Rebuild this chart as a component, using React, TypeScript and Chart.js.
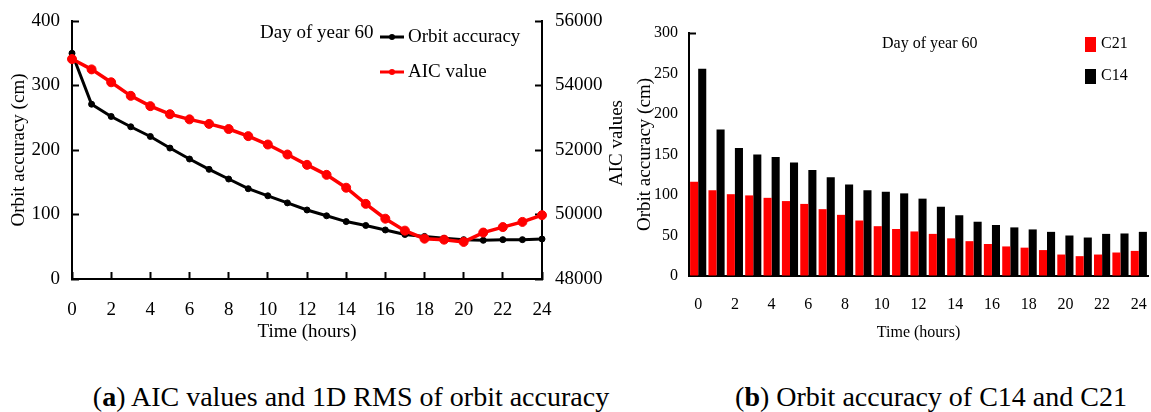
import React, { useEffect, useRef } from 'react';
import { Chart, registerables } from 'chart.js';

Chart.register(...registerables);

const FONT = "'Liberation Serif', 'Times New Roman', serif";

// ---- Chart (a) data ----
const hours = [0, 1, 2, 3, 4, 5, 6, 7, 8, 9, 10, 11, 12, 13, 14, 15, 16, 17, 18, 19, 20, 21, 22, 23, 24];
const orbitAccuracy = [350, 271, 252, 236, 221, 203, 186, 170, 155, 140, 129, 118, 107, 98, 89, 83, 76, 69, 66, 63, 61, 60, 61, 61, 62];
const aicValues = [54820, 54500, 54100, 53680, 53360, 53110, 52950, 52810, 52650, 52430, 52170, 51860, 51540, 51230, 50830, 50330, 49870, 49500, 49250, 49220, 49150, 49440, 49610, 49770, 49980];
const hourTicks = [0, 2, 4, 6, 8, 10, 12, 14, 16, 18, 20, 22, 24];
const accuracyTicks = [0, 100, 200, 300, 400];
const aicTicks = [48000, 50000, 52000, 54000, 56000];

// ---- Chart (b) data ----
const barHours = ['0', '1', '2', '3', '4', '5', '6', '7', '8', '9', '10', '11', '12', '13', '14', '15', '16', '17', '18', '19', '20', '21', '22', '23', '24'];
const c21 = [116.5, 106, 101, 99.5, 96.5, 92.5, 89, 82.5, 75.5, 68.5, 61.5, 58, 55, 52, 46.5, 43, 39.5, 36.5, 35, 32, 26.5, 24.5, 26.5, 29, 31];
const c14 = [256, 181, 158, 150, 147, 140, 131, 122, 113, 106, 104, 102, 95.5, 85.5, 75, 67, 63, 60, 57.5, 54.5, 50, 47.5, 52, 52.5, 54.5];
const barTicks = [0, 50, 100, 150, 200, 250, 300];

const annotation = 'Day of year 60';
const RED = '#ff0000';
const BLACK = '#000000';

const setTicks = (values: number[]) => (scale: any) => {
  scale.ticks = values.map((v) => ({ value: v }));
};

export default function App() {
  const refA = useRef<HTMLCanvasElement>(null);
  const refB = useRef<HTMLCanvasElement>(null);

  useEffect(() => {
    Chart.defaults.font.family = FONT;
    Chart.defaults.color = '#000';

    const annotA = {
      id: 'annotA',
      afterDraw(chart: any) {
        const ctx = chart.ctx;
        ctx.save();
        ctx.font = `19px ${FONT}`;
        ctx.fillStyle = '#000';
        ctx.textBaseline = 'middle';
        ctx.textAlign = 'left';
        ctx.fillText(annotation, 260, 33);
        const items = [
          { ds: chart.data.datasets[0], y: 37 },
          { ds: chart.data.datasets[1], y: 72 },
        ];
        for (const it of items) {
          const c = it.ds.borderColor;
          ctx.strokeStyle = c;
          ctx.fillStyle = c;
          ctx.lineWidth = 3;
          ctx.beginPath();
          ctx.moveTo(380, it.y);
          ctx.lineTo(404, it.y);
          ctx.stroke();
          ctx.beginPath();
          ctx.arc(392, it.y, 3, 0, Math.PI * 2);
          ctx.fill();
          ctx.fillStyle = '#000';
          ctx.fillText(it.ds.label, 408, it.y);
        }
        ctx.translate(617, 143);
        ctx.rotate(-Math.PI / 2);
        ctx.textAlign = 'center';
        ctx.fillText('AIC values', 0, 0);
        ctx.restore();
      },
    };

    const noVPad = (w: number) => (s: any) => { s.width = w; s.paddingTop = 0; s.paddingBottom = 0; };
    const noHPad = (h: number) => (s: any) => { s.height = h; s.paddingLeft = 0; s.paddingRight = 0; };

    const chartA = new Chart(refA.current!, {
      type: 'line',
      data: {
        datasets: [
          {
            label: 'Orbit accuracy',
            data: hours.map((h, i) => ({ x: h, y: orbitAccuracy[i] })),
            borderColor: BLACK,
            backgroundColor: BLACK,
            pointBackgroundColor: BLACK,
            pointBorderColor: BLACK,
            borderWidth: 3,
            pointRadius: 3,
            pointBorderWidth: 1,
            yAxisID: 'y',
            order: 1,
            clip: false,
          },
          {
            label: 'AIC value',
            data: hours.map((h, i) => ({ x: h, y: aicValues[i] })),
            borderColor: RED,
            backgroundColor: RED,
            pointBackgroundColor: RED,
            pointBorderColor: RED,
            borderWidth: 3.5,
            pointRadius: 4.5,
            pointBorderWidth: 1,
            yAxisID: 'y1',
            order: 0,
            clip: false,
          },
        ],
      },
      options: {
        responsive: false,
        animation: false,
        devicePixelRatio: 1,
        layout: { padding: { top: 21, right: 0, bottom: 0, left: 0 } },
        plugins: { legend: { display: false }, tooltip: { enabled: false } },
        scales: {
          x: {
            type: 'linear',
            min: 0,
            max: 24,
            afterBuildTicks: setTicks(hourTicks),
            afterFit: noHPad(71),
            grid: { drawOnChartArea: false, drawTicks: true, tickLength: -7, tickWidth: 2, tickColor: '#000' },
            border: { display: true, color: '#000', width: 2 },
            ticks: { font: { size: 19, family: FONT }, color: '#000', padding: 27, maxRotation: 0, autoSkip: false },
            title: { display: true, text: 'Time (hours)', font: { size: 19, family: FONT }, color: '#000', padding: { top: 0, bottom: 7 } },
          },
          y: {
            type: 'linear',
            position: 'left',
            min: 0,
            max: 400,
            afterBuildTicks: setTicks(accuracyTicks),
            afterFit: noVPad(72),
            grid: { drawOnChartArea: false, drawTicks: true, tickLength: -7, tickWidth: 2, tickColor: '#000' },
            border: { display: true, color: '#000', width: 2 },
            ticks: { font: { size: 19, family: FONT }, color: '#000', padding: 19 },
            title: { display: true, text: 'Orbit accuracy (cm)', font: { size: 19, family: FONT }, color: '#000', padding: { top: 8, bottom: 0 } },
          },
          y1: {
            type: 'linear',
            position: 'right',
            min: 48000,
            max: 56000,
            afterBuildTicks: setTicks(aicTicks),
            afterFit: noVPad(98),
            grid: { drawOnChartArea: false, drawTicks: true, tickLength: -7, tickWidth: 2, tickColor: '#000' },
            border: { display: true, color: '#000', width: 2 },
            ticks: { font: { size: 19, family: FONT }, color: '#000', padding: 20, callback: (v: any) => String(v) },
            title: { display: false },
          },
        },
      },
      plugins: [annotA],
    });

    const annotB = {
      id: 'annotB',
      afterDraw(chart: any) {
        const ctx = chart.ctx;
        ctx.save();
        ctx.font = `16px ${FONT}`;
        ctx.fillStyle = '#000';
        ctx.textBaseline = 'middle';
        ctx.textAlign = 'left';
        ctx.fillText(annotation, 252, 44);
        const items = [
          { ds: chart.data.datasets[0], y: 44 },
          { ds: chart.data.datasets[1], y: 76 },
        ];
        for (const it of items) {
          ctx.fillStyle = it.ds.backgroundColor;
          ctx.fillRect(455, it.y - 7, 11, 15);
          ctx.fillStyle = '#000';
          ctx.fillText(it.ds.label, 471, it.y);
        }
        ctx.restore();
      },
    };

    const chartB = new Chart(refB.current!, {
      type: 'bar',
      data: {
        labels: barHours,
        datasets: [
          { label: 'C21', data: c21, backgroundColor: RED, borderWidth: 0, categoryPercentage: 0.88, barPercentage: 1 },
          { label: 'C14', data: c14, backgroundColor: BLACK, borderWidth: 0, categoryPercentage: 0.88, barPercentage: 1 },
        ],
      },
      options: {
        responsive: false,
        animation: false,
        devicePixelRatio: 1,
        layout: { padding: { top: 33, right: 3, bottom: 0, left: 0 } },
        plugins: { legend: { display: false }, tooltip: { enabled: false } },
        scales: {
          x: {
            type: 'category',
            afterFit: noHPad(74),
            grid: { display: true, drawOnChartArea: false, drawTicks: false },
            border: { display: true, color: '#000', width: 2 },
            ticks: {
              font: { size: 16, family: FONT },
              color: '#000',
              padding: 19,
              maxRotation: 0,
              autoSkip: false,
              callback: (_v: any, i: number) => (i % 2 === 0 ? barHours[i] : ''),
            },
            title: { display: true, text: 'Time (hours)', font: { size: 16, family: FONT }, color: '#000', padding: { top: 0, bottom: 8 } },
          },
          y: {
            type: 'linear',
            min: 0,
            max: 300,
            afterBuildTicks: setTicks(barTicks),
            afterFit: noVPad(59),
            grid: {
              drawOnChartArea: false,
              drawTicks: true,
              tickLength: -7,
              tickWidth: 2,
              tickColor: (c: any) => (c.tick && c.tick.value === 300 ? '#000' : 'rgba(0,0,0,0)'),
            },
            border: { display: true, color: '#000', width: 2 },
            ticks: { font: { size: 16, family: FONT }, color: '#000', padding: 18 },
            title: { display: true, text: 'Orbit accuracy (cm)', font: { size: 19, family: FONT }, color: '#000', padding: { top: 4, bottom: 0 } },
          },
        },
      },
      plugins: [annotB],
    });

    return () => {
      chartA.destroy();
      chartB.destroy();
    };
  }, []);

  const captionStyle: React.CSSProperties = {
    position: 'absolute',
    top: 381,
    textAlign: 'center',
    fontFamily: FONT,
    fontSize: 28,
    lineHeight: '32px',
    whiteSpace: 'nowrap',
    color: '#000',
  };

  return (
    <div style={{ position: 'fixed', left: 0, top: 0, width: 1151, height: 412, background: '#fff', overflow: 'hidden' }}>
      <canvas ref={refA} width={640} height={350} style={{ position: 'absolute', left: 0, top: 0 }} />
      <canvas ref={refB} width={521} height={350} style={{ position: 'absolute', left: 630, top: 0 }} />
      <div style={{ ...captionStyle, left: 0, width: 702 }}>
        (<b>a</b>) AIC values and 1D RMS of orbit accuracy
      </div>
      <div style={{ ...captionStyle, left: 731, width: 400 }}>
        (<b>b</b>) Orbit accuracy of C14 and C21
      </div>
    </div>
  );
}
